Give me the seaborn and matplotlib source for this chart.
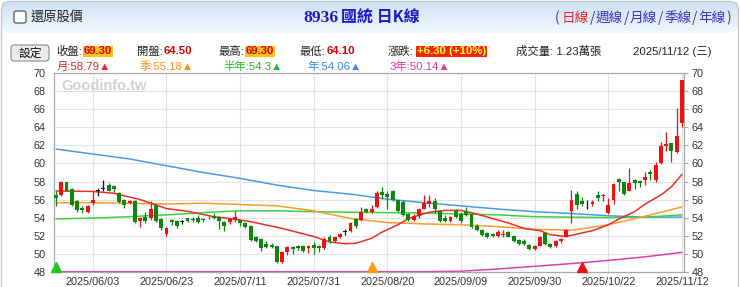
import numpy as np
import pandas as pd
import matplotlib
matplotlib.use("Agg")
import matplotlib.pyplot as plt
from matplotlib.patches import FancyBboxPatch
from matplotlib.colors import LinearSegmentedColormap
import seaborn as sns

# ---------------- data ----------------
holidays = ["2025-05-30", "2025-09-29", "2025-10-06", "2025-10-10", "2025-10-24"]
start_date, end_date = "2025-05-22", "2025-11-12"

opens = [56.5, 56.5, 57.9, 57.2, 55.8, 55.1, 54.6, 55.6, 57.0, 57.2,
         57.6, 57.5, 56.7, 56.0, 55.6, 55.8, 53.6, 54.1, 53.9, 55.4,
         53.8, 52.2, 53.7, 53.6, 53.5, 53.9, 53.8, 53.9, 53.8, 54.0,
         54.2, 54.1, 53.5, 53.5, 53.7, 53.7, 53.4, 53.1, 51.9, 51.6,
         51.1, 51.0, 50.8, 49.1, 50.2, 50.7, 50.9, 50.8, 50.6, 51.0,
         50.9, 50.6, 51.9, 51.4, 51.8, 52.4, 52.5, 53.8, 53.7, 55.0,
         54.6, 55.2, 56.8, 56.6, 57.0, 55.9, 55.7, 54.4, 53.7, 54.2,
         55.0, 55.5, 55.8, 54.7, 54.0, 53.6, 54.7, 54.4, 54.7, 54.4,
         53.1, 52.6, 52.3, 52.2, 52.0, 52.1, 52.4, 52.0, 51.5, 51.4,
         51.0, 50.5, 50.9, 52.3, 51.1, 50.8, 51.4, 51.9, 54.7, 56.6,
         55.8, 55.7, 55.5, 56.5, 56.4, 54.5, 55.9, 58.3, 57.9, 57.0,
         58.2, 58.1, 58.2, 59.0, 58.2, 60.0, 61.9, 62.3, 61.3, 64.5]
highs = [57.0, 58.1, 58.0, 57.3, 56.0, 55.3, 55.4, 56.9, 57.3, 58.2,
         57.8, 57.6, 56.8, 56.1, 55.9, 55.9, 54.1, 54.6, 55.8, 55.5,
         53.9, 53.0, 53.8, 53.7, 53.7, 54.0, 54.1, 54.3, 53.9, 54.2,
         54.5, 54.2, 53.6, 53.9, 54.7, 53.8, 53.5, 53.2, 52.0, 51.7,
         51.4, 51.2, 50.9, 50.3, 50.8, 50.8, 51.0, 51.0, 51.0, 51.3,
         51.0, 51.8, 52.1, 51.9, 52.3, 52.7, 53.5, 54.0, 55.2, 55.1,
         55.4, 56.9, 57.4, 56.9, 57.1, 56.0, 55.9, 54.5, 54.4, 55.1,
         56.5, 56.5, 56.2, 54.8, 54.3, 54.2, 54.9, 54.6, 55.2, 54.5,
         53.3, 52.7, 52.4, 52.3, 52.6, 52.6, 52.5, 52.1, 51.6, 51.6,
         51.1, 51.0, 52.0, 52.4, 51.2, 51.5, 51.7, 52.7, 57.1, 57.0,
         56.3, 55.9, 55.9, 56.9, 56.6, 56.2, 57.8, 58.4, 58.0, 59.5,
         58.3, 58.2, 59.1, 59.3, 60.2, 62.4, 63.5, 62.3, 66.2, 69.3]
lows = [55.3, 56.4, 56.9, 55.3, 54.6, 54.5, 54.5, 55.4, 56.4, 57.0,
        56.9, 56.8, 55.6, 55.1, 55.5, 53.4, 53.0, 53.4, 53.7, 53.5,
        52.6, 52.0, 53.2, 52.9, 53.3, 53.5, 53.5, 53.4, 53.5, 53.8,
        53.8, 52.7, 52.5, 53.3, 53.5, 53.1, 52.8, 51.4, 51.3, 50.3,
        50.6, 50.6, 49.0, 49.0, 49.8, 50.0, 50.4, 50.2, 50.1, 50.0,
        50.2, 50.5, 51.2, 51.3, 51.7, 52.1, 52.4, 52.8, 53.6, 54.5,
        54.5, 55.1, 56.1, 55.0, 55.8, 54.6, 54.2, 53.6, 53.6, 54.0,
        54.9, 55.2, 54.5, 53.5, 53.5, 53.5, 54.0, 53.4, 54.2, 52.9,
        52.5, 52.0, 51.7, 51.8, 51.9, 51.9, 51.8, 51.3, 51.0, 51.0,
        50.4, 50.4, 50.8, 51.0, 50.6, 50.7, 51.2, 51.8, 53.4, 55.0,
        55.3, 55.0, 55.3, 55.8, 55.8, 54.4, 55.5, 56.9, 56.5, 56.9,
        57.2, 57.4, 57.6, 58.2, 58.0, 59.9, 61.4, 60.2, 61.2, 64.1]
closes = [56.2, 57.9, 57.0, 55.4, 54.8, 54.8, 55.3, 56.0, 57.0, 57.2,
          57.0, 57.2, 55.7, 55.4, 55.8, 53.5, 54.0, 53.6, 55.0, 53.6,
          52.8, 52.9, 53.5, 53.1, 53.5, 53.6, 53.7, 53.5, 53.7, 53.9,
          53.9, 53.6, 53.1, 53.8, 54.1, 53.4, 53.0, 51.5, 51.4, 50.6,
          50.7, 50.7, 49.1, 50.2, 50.7, 50.5, 50.6, 50.3, 50.9, 50.6,
          50.6, 51.6, 51.4, 51.8, 52.2, 52.4, 53.4, 53.1, 54.6, 54.6,
          55.0, 56.7, 56.5, 56.3, 55.9, 54.7, 54.3, 53.7, 54.2, 54.9,
          55.6, 55.8, 54.9, 53.6, 53.6, 54.1, 54.1, 53.6, 54.3, 53.0,
          52.6, 52.1, 51.8, 52.0, 52.4, 52.2, 51.9, 51.4, 51.1, 51.1,
          50.5, 50.9, 51.8, 51.1, 50.7, 51.4, 51.6, 52.6, 55.9, 55.4,
          55.5, 55.7, 55.7, 56.2, 56.5, 55.4, 57.7, 58.0, 56.6, 57.8,
          57.8, 57.8, 58.5, 58.8, 59.8, 61.9, 62.2, 61.4, 63.0, 69.3]

tick_dates = ["2025/06/03", "2025/06/23", "2025/07/11", "2025/07/31", "2025/08/20",
              "2025/09/09", "2025/09/30", "2025/10/22", "2025/11/12"]

# monthly MA read at the trading-day indices listed in month_idx
month_idx = [0, 7, 11, 16, 18, 21, 25, 30, 33, 37, 43, 49, 52, 55, 57, 60, 62, 65, 67,
             71, 74, 77, 80, 83, 86, 89, 92, 94, 97, 100, 102, 105, 107, 110, 112, 115, 117, 119]
ma_month = [56.95, 56.9, 56.7, 56.0, 55.6, 55.0, 54.7, 54.1, 53.9, 53.55, 52.8, 51.9, 51.3, 51.1,
            51.15, 51.7, 52.4, 53.2, 53.9, 54.6, 54.8, 54.8, 54.4, 53.9, 53.4, 52.8, 52.55,
            52.1, 51.9, 52.3, 52.55, 53.2, 53.85, 54.65, 55.5, 56.5, 57.4, 58.79]

# longer moving averages read at every 7th trading day (index 0, 7, ..., 119)
ma_idx = list(range(0, 120, 7))
ma_quarter = [55.65, 55.65, 55.6, 55.5, 55.6, 55.45, 55.3, 54.75, 53.9, 53.45,
              53.3, 53.2, 53.0, 52.7, 52.6, 53.2, 54.15, 55.18]
ma_half = [53.85, 53.95, 54.1, 54.3, 54.55, 54.75, 54.75, 54.65, 54.6, 54.55,
           54.5, 54.4, 54.3, 54.1, 54.05, 54.0, 54.05, 54.3]
ma_year = [61.6, 61.05, 60.5, 59.75, 59.0, 58.35, 57.6, 57.0, 56.6, 56.05,
           55.65, 55.3, 54.95, 54.65, 54.45, 54.2, 54.05, 54.06]
ma_3year = [48.0, 48.0, 48.0, 48.0, 48.0, 48.0, 48.0, 48.0, 48.0, 48.0,
            48.0, 48.05, 48.3, 48.6, 48.9, 49.25, 49.65, 50.14]

# window-start markers (index, colour)
marker_idx = [0, 60, 100]
marker_colors = ["#22c422", "#ff9a1a", "#ee1111"]

# ---------------- styling ----------------
sns.set_style("white")
FAM = ["Liberation Sans", "Noto Sans CJK TC", "DejaVu Sans"]
CJK = ["Noto Sans CJK TC", "DejaVu Sans"]
plt.rcParams["font.family"] = FAM

W, H = 740, 287
fig = plt.figure(figsize=(W / 100, H / 100), dpi=100)


def fx(x):
    return x / W


def fy(y):
    return 1 - y / H


# outer border
fig.patches.append(FancyBboxPatch((fx(1.5), fy(300)), fx(737), (300 - 1.5) / H,
                                  boxstyle="round,pad=0,rounding_size=0.012", mutation_aspect=W / H,
                                  transform=fig.transFigure, facecolor="none", edgecolor="#c8c8c8", lw=1.0, zorder=0))

# header gradient bar
hax = fig.add_axes([fx(2), fy(33), fx(736), 31 / H])
hax.set_axis_off()
cmap = LinearSegmentedColormap.from_list("hdr", ["#cfe1f6", "#f3f8fd"])
grad = np.linspace(0, 1, 64).reshape(-1, 1)
im = hax.imshow(grad, aspect="auto", cmap=cmap, extent=[0, 1, 0, 1], origin="upper")
clip = FancyBboxPatch((0, 0), 1, 1.4, boxstyle="round,pad=0,rounding_size=0.012", mutation_aspect=736 / 31,
                      transform=hax.transAxes, facecolor="none", edgecolor="none")
hax.add_patch(clip)
im.set_clip_path(clip)

# checkbox + label
fig.patches.append(FancyBboxPatch((fx(14), fy(23)), fx(12), 12 / H, boxstyle="round,pad=0,rounding_size=0.003",
                                  mutation_aspect=W / H, transform=fig.transFigure,
                                  facecolor="white", edgecolor="#555555", lw=0.9, zorder=3))
fig.text(fx(31), fy(17), "還原股價", family=CJK, fontsize=9.5, color="#222222", va="center", ha="left")

# title
fig.text(fx(303), fy(18), "8936", family=["Liberation Serif"], fontsize=12.5, fontweight="bold",
         color="#1a1acc", va="center", ha="left")
fig.text(fx(341), fy(18), "國統 日K線", family=CJK, fontsize=11.5, fontweight="bold",
         color="#1a1acc", va="center", ha="left")

# right-hand period links
x0 = 555
parts = [("(", "#3333aa"), ("日線", "#ee2222"), ("/", "#3333aa"), ("週線", "#3333cc"), ("/", "#3333aa"),
         ("月線", "#3333cc"), ("/", "#3333aa"), ("季線", "#3333cc"), ("/", "#3333aa"), ("年線", "#3333cc"),
         (")", "#3333aa")]
widths = {"(": 7, ")": 7, "/": 6}
for txt, col in parts:
    fig.text(fx(x0), fy(18), txt, family=CJK, fontsize=9.8, color=col, va="center", ha="left")
    x0 += widths.get(txt, 28)

# settings button
fig.patches.append(FancyBboxPatch((fx(11), fy(61)), fx(38), 16 / H, boxstyle="round,pad=0,rounding_size=0.004",
                                  mutation_aspect=W / H, transform=fig.transFigure,
                                  facecolor="#ececec", edgecolor="#8a8a8a", lw=0.8, zorder=3))
fig.text(fx(30), fy(53), "設定", family=CJK, fontsize=8.5, color="#111111", va="center", ha="center", zorder=4)

ROW2 = 51.5
lab_kw = dict(family=FAM, fontsize=8.2, color="#222222", va="center", ha="left")
val_kw = dict(family=FAM, fontsize=8.2, fontweight="bold", va="center", ha="left")
fig.text(fx(56), fy(ROW2), "收盤:", **lab_kw)
fig.text(fx(84), fy(ROW2), "69.30", color="#e00000",
         bbox=dict(facecolor="#ffc21a", edgecolor="none", pad=0.6), **val_kw)
fig.text(fx(137), fy(ROW2), "開盤:", **lab_kw)
fig.text(fx(164), fy(ROW2), "64.50", color="#e00000", **val_kw)
fig.text(fx(219), fy(ROW2), "最高:", **lab_kw)
fig.text(fx(246), fy(ROW2), "69.30", color="#e00000",
         bbox=dict(facecolor="#ffc21a", edgecolor="none", pad=0.6), **val_kw)
fig.text(fx(300), fy(ROW2), "最低:", **lab_kw)
fig.text(fx(327), fy(ROW2), "64.10", color="#e00000", **val_kw)
fig.text(fx(388), fy(ROW2), "漲跌:", **lab_kw)
fig.text(fx(417), fy(ROW2), "+6.30 (+10%)", color="#ffff33",
         bbox=dict(facecolor="#ff2200", edgecolor="none", pad=0.6), **val_kw)
fig.text(fx(516), fy(ROW2), "成交量: 1.23萬張", **lab_kw)
fig.text(fx(633), fy(ROW2), "2025/11/12 (三)", **lab_kw)

ROW3 = 66.5
row3 = [(57, "月:58.79▲", "#ee2222"), (140, "季:55.18▲", "#ff8c1a"), (223, "半年:54.3▲", "#22bb22"),
        (307, "年:54.06▲", "#3388ee"), (390, "3年:50.14▲", "#e0389a")]
for xp, txt, col in row3:
    fig.text(fx(xp), fy(ROW3), txt, family=FAM, fontsize=8.2, color=col, va="center", ha="left")

# ---------------- main chart ----------------
dates = pd.bdate_range(start_date, end_date)
dates = dates[~dates.isin(pd.to_datetime(holidays))]
x = np.arange(len(dates))

ax = fig.add_axes([fx(53.5), fy(271.7), fx(684 - 53.5), (271.7 - 73.3) / H])

o = np.array(opens)
c = np.array(closes)
hi = np.array(highs)
lo = np.array(lows)
cols = np.where(c > o, "#f01010", np.where(c < o, "#0e860e", "#111111"))
body_bottom = np.minimum(o, c)
body_h = np.abs(c - o)
body_h = np.where(body_h < 0.06, 0.08, body_h)

# moving averages
ma_df = pd.DataFrame({"idx": ma_idx, "quarter": ma_quarter,
                      "half": ma_half, "year": ma_year, "y3": ma_3year})
month_df = pd.DataFrame({"idx": month_idx, "month": ma_month})
ma_colors = {"y3": "#e040a8", "year": "#4a9ae8", "half": "#3ecf3e", "quarter": "#ff9b2f"}
for key in ["y3", "year", "half", "quarter"]:
    sns.lineplot(data=ma_df, x="idx", y=key, ax=ax, color=ma_colors[key], lw=1.1, zorder=2, legend=False)
sns.lineplot(data=month_df, x="idx", y="month", ax=ax, color="#e8302a", lw=1.1, zorder=2, legend=False)

ax.vlines(x, lo, hi, colors=cols, lw=0.9, zorder=3)
ax.bar(x, body_h, bottom=body_bottom, width=0.74, color=cols, linewidth=0, zorder=4)

for mi, mc in zip(marker_idx, marker_colors):
    ax.plot([mi], [48.55], marker="^", ms=7, color=mc, clip_on=False, zorder=5, lw=0)

ax.set_xlim(-0.48, 119.4)
ax.set_ylim(48, 70)
ax.set_yticks(np.arange(48, 71, 2))
tick_pos = [dates.get_loc(pd.Timestamp(d.replace("/", "-"))) for d in tick_dates]
ax.set_xticks(tick_pos)
ax.set_xticklabels(tick_dates)
ax.set_xlabel("")
ax.set_ylabel("")
ax.grid(True, color="#e2e2e2", lw=0.8)
ax.set_axisbelow(True)
for s in ax.spines.values():
    s.set_color("#a8a8a8")
    s.set_linewidth(0.9)
    s.set_visible(True)
ax.tick_params(axis="y", which="both", left=False, right=True, labelleft=True, labelright=True,
               length=3, pad=2.5, labelsize=7.8, colors="#a8a8a8", labelcolor="#333333")
ax.tick_params(axis="x", length=0, pad=4, labelsize=7.8, labelcolor="#333333")
for lab in ax.get_xticklabels() + ax.get_yticklabels():
    lab.set_family(FAM)

ax.text(0.012, 0.935, "Goodinfo.tw", transform=ax.transAxes, fontsize=10.5, fontweight="bold",
        color="#d2d2d2", va="center", ha="left", family=FAM, zorder=1)

fig.savefig("out.png", dpi=100)
